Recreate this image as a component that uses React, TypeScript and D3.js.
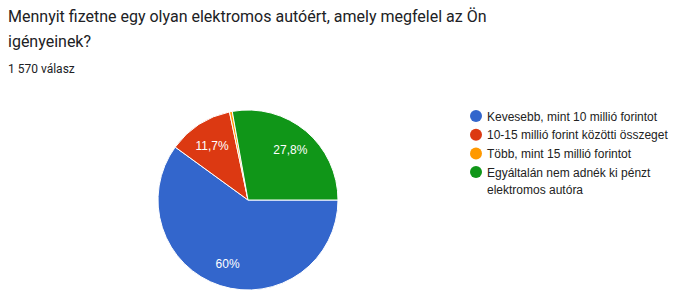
import React from "react";
import * as d3 from "d3";

const titleLines = ["Mennyit fizetne egy olyan elektromos autóért, amely megfelel az Ön", "igényeinek?"];
const responses = "1 570 válasz";
const categories = [
  "Kevesebb, mint 10 millió forintot",
  "10-15 millió forint közötti összeget",
  "Több, mint 15 millió forintot",
  "Egyáltalán nem adnék ki pénzt elektromos autóra",
];
const legendLines = [
  ["Kevesebb, mint 10 millió forintot"],
  ["10-15 millió forint közötti összeget"],
  ["Több, mint 15 millió forintot"],
  ["Egyáltalán nem adnék ki pénzt", "elektromos autóra"],
];
const values = [60, 11.7, 0.5, 27.8];
const labels = ["60%", "11,7%", "", "27,8%"];
const colors = ["#3366cc", "#dc3912", "#ff9900", "#109618"];

export default function App() {
  const W = 676, H = 295;
  const cx = 248, cy = 200, r = 90;
  const pie = d3.pie<number>().sort(null).startAngle(Math.PI / 2).endAngle(Math.PI / 2 + 2 * Math.PI);
  const arcs = pie(values);
  const arc = d3.arc<d3.PieArcDatum<number>>().innerRadius(0).outerRadius(r);
  const labelArc = d3.arc<d3.PieArcDatum<number>>().innerRadius(66).outerRadius(66);
  let legendY = 116;
  const legendRows = legendLines.map((lines, i) => {
    const y = legendY;
    legendY += lines.length * 18.5 + 0.2;
    return { lines, y, i };
  });
  return (
    <svg width={W} height={H} style={{ position: "absolute", left: 0, top: 0, background: "#fff" }}>
      <rect width={W} height={H} fill="#fff" />
      {titleLines.map((t, i) => (
        <text key={i} x={8} y={22 + i * 25} fontFamily="Roboto" fontSize={16} fill="#202124">{t}</text>
      ))}
      <text x={8} y={73} fontFamily="Roboto" fontSize={12} fill="#202124">{responses}</text>
      <g transform={`translate(${cx},${cy})`}>
        {arcs.map((a, i) => (
          <path key={i} d={arc(a) || ""} fill={colors[i]} stroke="#fff" strokeWidth={1} />
        ))}
        {arcs.map((a, i) => {
          if (!labels[i]) return null;
          const [lx, ly] = labelArc.centroid(a);
          return (
            <text key={"l" + i} x={lx} y={ly + 5} textAnchor="middle" fontFamily="Arial, Liberation Sans" fontSize={12} fill="#fff">{labels[i]}</text>
          );
        })}
      </g>
      {legendRows.map(({ lines, y, i }) => (
        <g key={i} aria-label={categories[i]}>
          <circle cx={476} cy={y} r={6} fill={colors[i]} />
          {lines.map((l, j) => (
            <text key={j} x={487} y={y + 4.5 + j * 17.5} fontFamily="Arial, Liberation Sans" fontSize={12} fill="#222">{l}</text>
          ))}
        </g>
      ))}
    </svg>
  );
}
